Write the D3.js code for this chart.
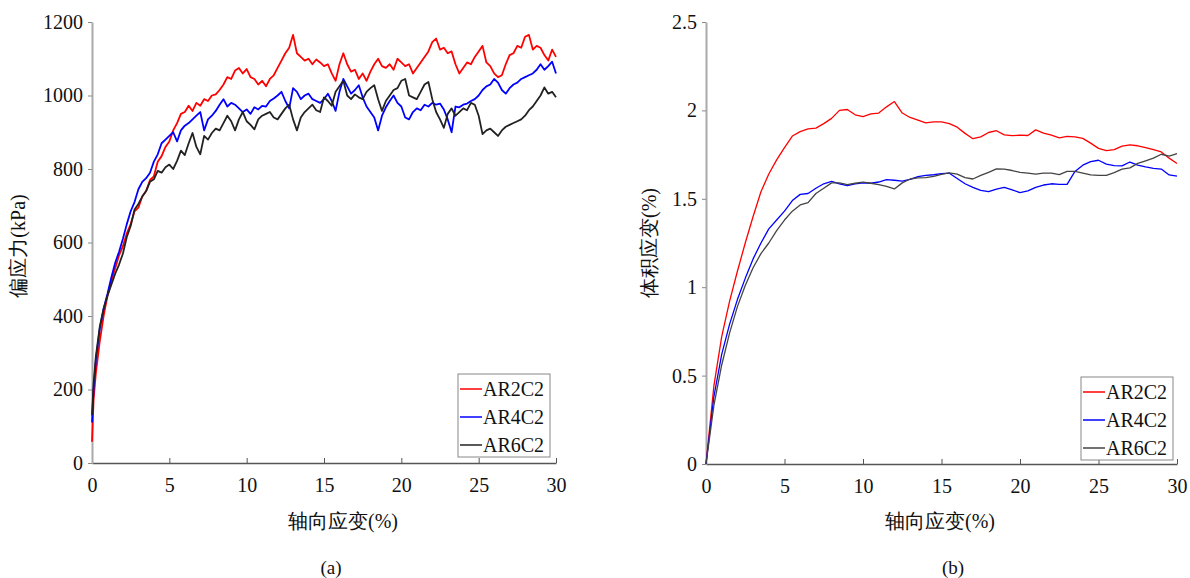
<!DOCTYPE html>
<html lang="en">
<head>
    <meta charset="UTF-8">
    <title>偏应力与体积应变</title>
    <style>
        body { margin: 0; padding: 0; background: white; }
    </style>
</head>
<body>
    <svg id="chart" width="1190" height="578"></svg>
    <script src="https://cdn.jsdelivr.net/npm/d3@7/dist/d3.min.js"></script>
    <script>
        const SERIF = "Liberation Serif";

        // series names
        const seriesNames = ["AR2C2", "AR4C2", "AR6C2"];

        // (a) axial strain grid (%) and deviatoric stress (kPa)
        const strainA = [0, 0.1, 0.25, 0.5, 0.75, 1, 1.25, 1.5, 1.75, 2, 2.25, 2.5, 2.75, 3, 3.25, 3.5, 3.75, 4, 4.25, 4.5, 4.75,
            5, 5.25, 5.5, 5.75, 6, 6.25, 6.5, 6.75, 7, 7.25, 7.5, 7.75, 8, 8.25, 8.5, 8.75, 9, 9.25, 9.5, 9.75,
            10, 10.25, 10.5, 10.75, 11, 11.25, 11.5, 11.75, 12, 12.25, 12.5, 12.75, 13, 13.25, 13.5, 13.75, 14, 14.25, 14.5, 14.75,
            15, 15.25, 15.5, 15.75, 16, 16.25, 16.5, 16.75, 17, 17.25, 17.5, 17.75, 18, 18.25, 18.5, 18.75, 19, 19.25, 19.5, 19.75,
            20, 20.25, 20.5, 20.75, 21, 21.25, 21.5, 21.75, 22, 22.25, 22.5, 22.75, 23, 23.25, 23.5, 23.75, 24, 24.25, 24.5, 24.75,
            25, 25.25, 25.5, 25.75, 26, 26.25, 26.5, 26.75, 27, 27.25, 27.5, 27.75, 28, 28.25, 28.5, 28.75, 29, 29.25, 29.5, 29.75, 30];
        const stressAR2 = [58, 170, 245, 330, 400, 455, 495, 530, 565, 590, 625, 650, 685, 695, 725, 740, 770, 780, 820, 835, 860,
            875, 905, 925, 950, 955, 972, 958, 980, 972, 990, 985, 1000, 1003, 1015, 1030, 1050, 1045, 1068, 1075, 1060,
            1072, 1050, 1045, 1030, 1040, 1025, 1045, 1055, 1075, 1095, 1115, 1130, 1165, 1115, 1105, 1095, 1100, 1085, 1098, 1090,
            1080, 1085, 1060, 1040, 1085, 1115, 1085, 1065, 1070, 1045, 1060, 1040, 1065, 1085, 1100, 1080, 1075, 1085, 1070, 1100,
            1090, 1080, 1085, 1060, 1075, 1090, 1105, 1120, 1145, 1155, 1125, 1130, 1115, 1120, 1085, 1060, 1075, 1090, 1085, 1105,
            1120, 1135, 1090, 1080, 1060, 1050, 1055, 1085, 1110, 1115, 1135, 1130, 1160, 1165, 1125, 1135, 1130, 1110, 1095, 1125, 1105];
        const stressAR4 = [110, 200, 280, 365, 420, 460, 505, 545, 575, 610, 650, 685, 710, 745, 765, 775, 790, 820, 840, 870, 880,
            890, 900, 875, 905, 918, 925, 935, 945, 955, 905, 935, 945, 958, 975, 990, 970, 980, 975, 965, 955,
            962, 950, 968, 962, 972, 970, 985, 992, 1000, 1010, 985, 965, 1020, 1010, 990, 1000, 1005, 990, 985, 980,
            990, 1005, 985, 958, 1010, 1045, 1025, 1005, 1015, 1028, 995, 970, 955, 940, 905, 945, 968, 985, 1000, 980,
            970, 940, 935, 955, 965, 960, 975, 970, 980, 975, 978, 962, 935, 900, 970, 968, 975, 978, 985, 990,
            1000, 1015, 1025, 1030, 1045, 1035, 1015, 1005, 1020, 1030, 1035, 1045, 1050, 1055, 1060, 1070, 1085, 1070, 1080, 1092, 1060];
        const stressAR6 = [130, 215, 290, 370, 420, 455, 485, 515, 540, 570, 615, 645, 690, 705, 725, 740, 765, 772, 795, 790, 805,
            812, 800, 822, 850, 838, 870, 898, 860, 840, 890, 880, 898, 910, 905, 925, 945, 930, 905, 935, 955,
            930, 920, 908, 935, 945, 950, 955, 940, 935, 950, 965, 975, 935, 905, 940, 955, 965, 975, 960, 955,
            995, 985, 972, 1010, 1025, 1040, 1000, 990, 1003, 995, 990, 1010, 1020, 1028, 990, 958, 985, 1000, 1015, 1020,
            1040, 1045, 1000, 995, 990, 1010, 1030, 1037, 990, 955, 935, 912, 950, 965, 945, 955, 965, 960, 980, 975,
            945, 895, 905, 910, 900, 890, 905, 915, 920, 925, 930, 935, 945, 960, 970, 985, 1000, 1022, 1005, 1010, 995];

        // (b) axial strain grid (%) and volumetric strain (%)
        const strainB = [0, 0.5, 1, 1.5, 2, 2.5, 3, 3.5, 4, 4.5, 5, 5.5, 6, 6.5, 7, 7.5, 8, 8.5, 9, 9.5,
            10, 10.5, 11, 11.5, 12, 12.5, 13, 13.5, 14, 14.5, 15, 15.5, 16, 16.5, 17, 17.5, 18, 18.5, 19, 19.5,
            20, 20.5, 21, 21.5, 22, 22.5, 23, 23.5, 24, 24.5, 25, 25.5, 26, 26.5, 27, 27.5, 28, 28.5, 29, 29.5, 30];
        const volAR2 = [0, 0.44, 0.72, 0.92, 1.09, 1.25, 1.40, 1.54, 1.64, 1.72, 1.79, 1.855, 1.88, 1.895, 1.90, 1.925, 1.955, 2.0, 2.005, 1.975,
            1.965, 1.98, 1.985, 2.02, 2.05, 1.985, 1.96, 1.945, 1.93, 1.935, 1.935, 1.925, 1.905, 1.87, 1.84, 1.85, 1.875, 1.885, 1.862, 1.857,
            1.86, 1.858, 1.89, 1.872, 1.86, 1.845, 1.853, 1.85, 1.842, 1.815, 1.785, 1.772, 1.778, 1.798, 1.805, 1.80, 1.79, 1.778, 1.765, 1.73, 1.70];
        const volAR4 = [0, 0.38, 0.62, 0.79, 0.93, 1.05, 1.16, 1.25, 1.33, 1.38, 1.43, 1.49, 1.525, 1.53, 1.56, 1.585, 1.598, 1.585, 1.575, 1.585,
            1.59, 1.588, 1.595, 1.608, 1.605, 1.60, 1.61, 1.625, 1.632, 1.636, 1.642, 1.645, 1.615, 1.585, 1.565, 1.548, 1.54, 1.555, 1.565, 1.55,
            1.535, 1.545, 1.565, 1.578, 1.585, 1.582, 1.582, 1.655, 1.69, 1.71, 1.718, 1.696, 1.688, 1.686, 1.708, 1.69, 1.68, 1.672, 1.668, 1.635, 1.628];
        const volAR6 = [0, 0.33, 0.56, 0.74, 0.89, 1.01, 1.11, 1.19, 1.25, 1.32, 1.38, 1.43, 1.465, 1.478, 1.53, 1.56, 1.59, 1.59, 1.58, 1.588,
            1.594, 1.588, 1.58, 1.57, 1.556, 1.59, 1.612, 1.618, 1.62, 1.627, 1.638, 1.647, 1.64, 1.62, 1.612, 1.632, 1.65, 1.669, 1.668, 1.66,
            1.65, 1.645, 1.64, 1.645, 1.645, 1.637, 1.655, 1.655, 1.645, 1.635, 1.632, 1.632, 1.648, 1.668, 1.675, 1.70, 1.715, 1.73, 1.752, 1.742, 1.756];

        const xTicks = [0, 5, 10, 15, 20, 25, 30];
        const yTicksA = [0, 200, 400, 600, 800, 1000, 1200];
        const yTicksB = [0, 0.5, 1, 1.5, 2, 2.5];

        const svg = d3.select("#chart");

        function drawPanel(opt) {
            const x = d3.scaleLinear().domain([0, 30]).range([opt.left, opt.right]);
            const y = d3.scaleLinear().domain(opt.yDomain).range([opt.bottom, opt.top]);
            const g = svg.append("g");

            // x axis (ticks point inward)
            const xAxis = g.append("g")
                .attr("transform", "translate(0," + opt.bottom + ")")
                .call(d3.axisBottom(x).tickValues(xTicks).tickSizeInner(-5).tickSizeOuter(0).tickPadding(15))
                .attr("font-family", SERIF)
                .attr("font-size", 20);
            xAxis.select(".domain").attr("stroke", "#555").attr("stroke-width", 1.5);
            xAxis.selectAll(".tick line").attr("stroke", "#555");
            xAxis.selectAll(".tick text").attr("fill", "#111");

            // y axis (ticks point outward)
            const yAxis = g.append("g")
                .attr("transform", "translate(" + opt.left + ",0)")
                .call(d3.axisLeft(y).tickValues(opt.yTicks).tickFormat(d3.format("")).tickSizeInner(4).tickSizeOuter(0).tickPadding(5))
                .attr("font-family", SERIF)
                .attr("font-size", 20);
            yAxis.select(".domain").attr("stroke", "#aaa").attr("stroke-width", 2);
            yAxis.selectAll(".tick line").attr("stroke", "#888");
            yAxis.selectAll(".tick text").attr("fill", "#111");

            // curves
            const line = d3.line()
                .x(function(d, i) { return x(opt.strain[i]); })
                .y(function(d) { return y(d); });
            opt.series.forEach(function(s, i) {
                g.append("path")
                    .datum(s)
                    .attr("fill", "none")
                    .attr("stroke", opt.colors[i])
                    .attr("stroke-width", opt.lineWidth)
                    .attr("stroke-linejoin", "round")
                    .attr("d", line);
            });

            // axis titles
            g.append("text")
                .attr("x", opt.xTitleX)
                .attr("y", 528)
                .attr("text-anchor", "middle")
                .attr("font-family", SERIF)
                .attr("font-size", 20)
                .attr("fill", "#111")
                .text("轴向应变(%)");
            g.append("text")
                .attr("transform", "translate(" + opt.yTitleX + "," + opt.yTitleY + ") rotate(-90)")
                .attr("text-anchor", "middle")
                .attr("dominant-baseline", "middle")
                .attr("font-family", SERIF)
                .attr("font-size", 20)
                .attr("fill", "#111")
                .text(opt.yTitle);

            // panel caption
            g.append("text")
                .attr("x", opt.capX)
                .attr("y", 574)
                .attr("text-anchor", "middle")
                .attr("font-family", SERIF)
                .attr("font-size", 19)
                .attr("fill", "#111")
                .text(opt.caption);

            // legend
            const lg = g.append("g").attr("transform", "translate(" + opt.legX + "," + opt.legY + ")");
            lg.append("rect")
                .attr("width", 92).attr("height", 83)
                .attr("fill", "white").attr("stroke", "#888").attr("stroke-width", 1);
            seriesNames.forEach(function(name, i) {
                const cy = 15 + i * 28;
                lg.append("line")
                    .attr("x1", 2).attr("x2", 24)
                    .attr("y1", cy).attr("y2", cy)
                    .attr("stroke", opt.colors[i]).attr("stroke-width", 1.5);
                lg.append("text")
                    .attr("x", 25).attr("y", cy + 7)
                    .attr("font-family", SERIF)
                    .attr("font-size", 20)
                    .attr("fill", "#111")
                    .text(name);
            });
        }

        drawPanel({
            left: 92, right: 556, top: 22, bottom: 463,
            yDomain: [0, 1200], yTicks: yTicksA,
            strain: strainA, series: [stressAR2, stressAR4, stressAR6],
            colors: ["#ff0000", "#0000ff", "#222222"], lineWidth: 1.8,
            xTitleX: 343, yTitle: "偏应力(kPa)", yTitleX: 20, yTitleY: 246,
            caption: "(a)", capX: 331,
            legX: 458, legY: 374
        });

        drawPanel({
            left: 706, right: 1177, top: 22, bottom: 464,
            yDomain: [0, 2.5], yTicks: yTicksB,
            strain: strainB, series: [volAR2, volAR4, volAR6],
            colors: ["#ff0000", "#0000ff", "#444444"], lineWidth: 1.3,
            xTitleX: 940, yTitle: "体积应变(%)", yTitleX: 651, yTitleY: 243,
            caption: "(b)", capX: 953,
            legX: 1081, legY: 377
        });
    </script>
</body>
</html>
